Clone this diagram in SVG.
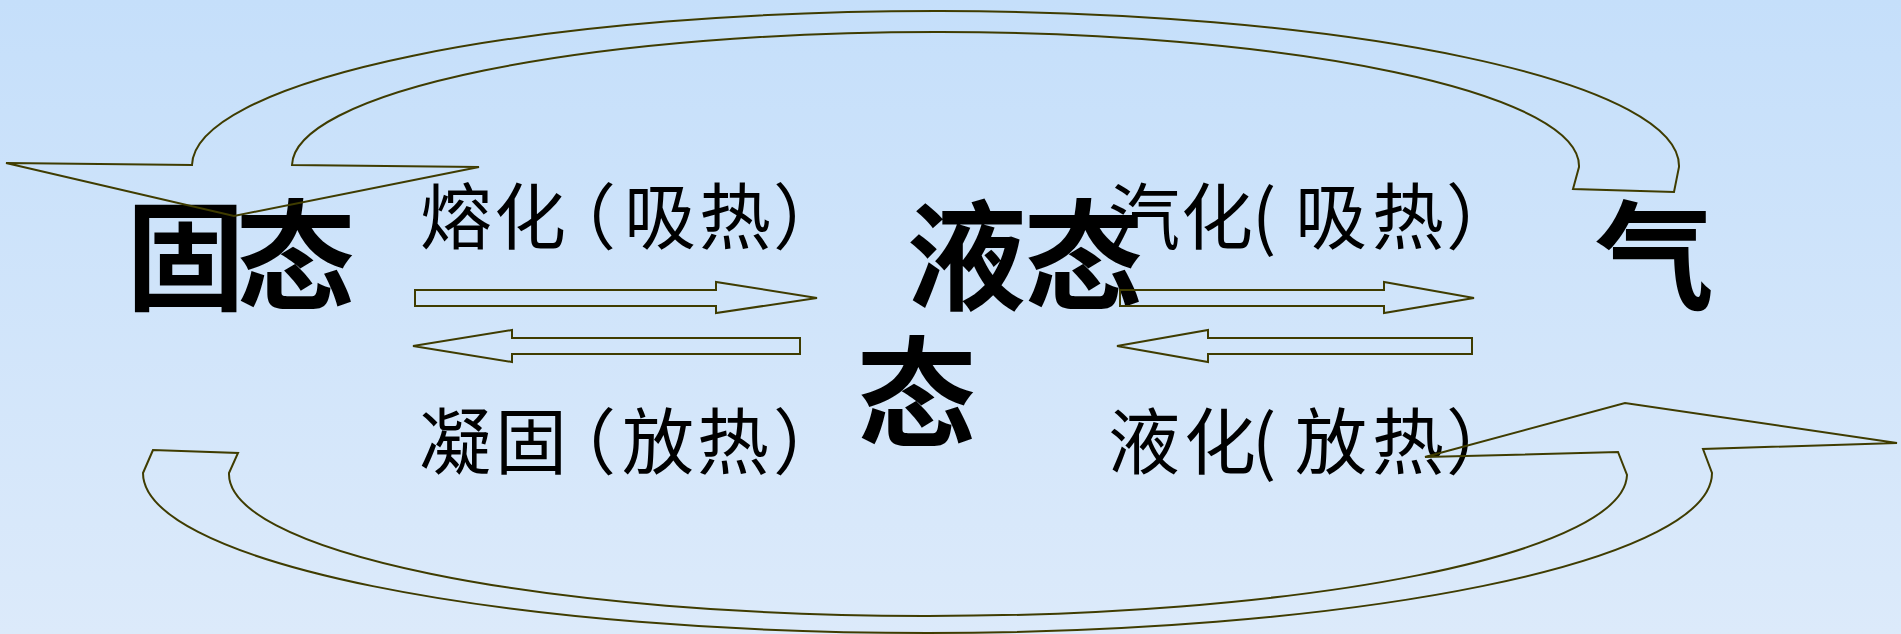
<svg xmlns="http://www.w3.org/2000/svg" width="1901" height="634" viewBox="0 0 1901 634">
<defs>
<linearGradient id="bg" x1="0" y1="0" x2="0" y2="1">
<stop offset="0" stop-color="#c5dffa"/>
<stop offset="1" stop-color="#dceafa"/>
</linearGradient>
<style>
.state{font-family:"Noto Sans CJK SC","Noto Sans CJK JP",sans-serif;font-weight:700;font-size:119px;fill:#000}
.label{font-family:"Noto Sans CJK SC","Noto Sans CJK JP",sans-serif;font-weight:400;font-size:72px;fill:#000}
.conn{fill:none;stroke:#3f3c00;stroke-width:2;stroke-linejoin:miter}
</style>
</defs>
<rect x="0" y="0" width="1901" height="634" fill="url(#bg)"/>

<g id="solid">
<text class="state" x="126 236" y="301">固态</text>
</g>
<g id="liquid">
<text class="state" x="907 1024" y="301">液态</text>
<text class="state" x="857" y="438">态</text>
</g>
<g id="gas">
<text class="state" x="1595" y="301">气</text>
</g>

<g id="labels">
<text class="label" x="420 494 544 624 699 773" y="243">熔化（吸热）</text>
<text class="label" x="1108 1181 1252 1295 1372 1446" y="243">汽化(吸热）</text>
<text class="label" x="419 495 544 622 697 773" y="468">凝固（放热）</text>
<text class="label" x="1108 1184 1252 1295 1372 1446" y="468">液化(放热）</text>
</g>

<g id="connectors">
<polygon class="conn" points="415,290 716,290 716,282 817,298 716,313 716,306 415,306"/>
<polygon class="conn" points="413,346 512,330 512,338 800,338 800,354 512,354 512,362"/>
<polygon class="conn" points="1120,290 1384,290 1384,282 1474,298 1384,313 1384,306 1120,306"/>
<polygon class="conn" points="1117,346 1208,330 1208,338 1472,338 1472,354 1208,354 1208,362"/>
<path class="conn" d="M192 165 A743.5 155 0 0 1 1679 167 L1674 192 L1573 189 L1579 167 A643.5 134 0 0 0 292 165 L479 167 L234 216 L6 163 Z"/>
<path class="conn" d="M153 450 L143 473 A784.5 160 0 0 0 1712 473 L1703 449 L1897 443 L1625 403 L1425 457 L1618 452 L1627 475 A699 142 0 0 1 229 473 L238 453 Z"/>
</g>
</svg>
